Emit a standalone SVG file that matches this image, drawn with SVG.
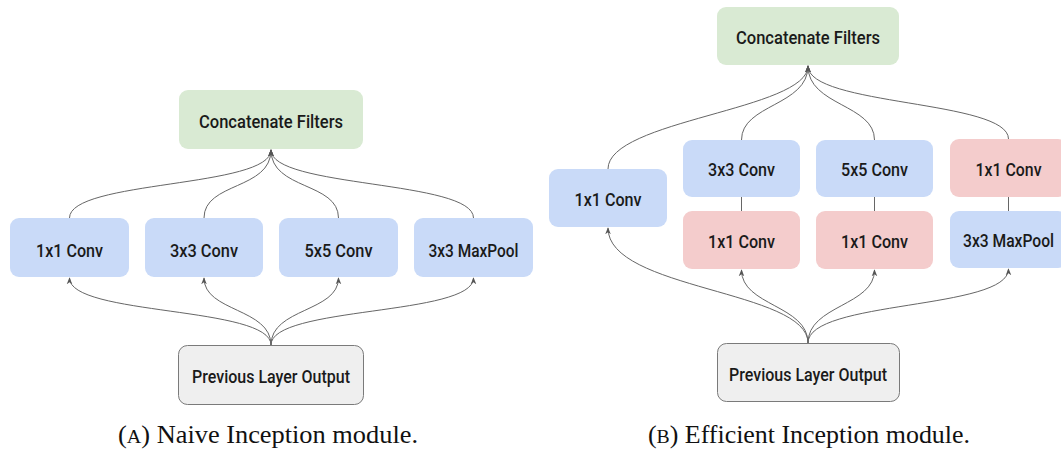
<svg xmlns="http://www.w3.org/2000/svg" width="1061" height="455" viewBox="0 0 1061 455">
  <defs>
    <marker id="arrow" viewBox="0 0 10 10" refX="9" refY="5" markerWidth="7" markerHeight="7" orient="auto" markerUnits="userSpaceOnUse">
      <path d="M0,1 L10,5 L0,9 L3,5 Z" fill="#555"/>
    </marker>
    <style>
      .box { rx: 9; ry: 9; }
      .blue { fill: #c9daf8; }
      .red { fill: #f4cccc; }
      .green { fill: #d9ead3; }
      .gray { fill: #efefef; stroke: #7a7a7a; stroke-width: 1; }
      .lbl { font-family: Roboto, "Liberation Sans", sans-serif; font-size: 18px; font-weight: 500; fill: #1a1a1a; text-anchor: middle; }
      .edge { fill: none; stroke: #666; stroke-width: 1; }
      .arr { marker-end: url(#arrow); }
      .cap { font-family: "Liberation Serif", serif; font-size: 25px; fill: #111; text-anchor: middle; }
    </style>
  </defs>

  <!-- Panel A: naive inception module -->
  <g id="connectors-a">
    <path class="edge arr" d="M69.5,218 C69.5,180 271,188 271,150"/>
    <path class="edge arr" d="M204,218 C204,182 271,190 271,150"/>
    <path class="edge arr" d="M338.5,218 C338.5,182 271,190 271,150"/>
    <path class="edge arr" d="M473.5,218 C473.5,180 271,188 271,150"/>
    <path class="edge arr" d="M271,345 C271,306 69.5,316 69.5,278"/>
    <path class="edge arr" d="M271,345 C271,308 204,312 204,278"/>
    <path class="edge arr" d="M271,345 C271,308 338.5,312 338.5,278"/>
    <path class="edge arr" d="M271,345 C271,306 473.5,316 473.5,278"/>
  </g>

  <g id="a-concat">
    <rect class="box green" x="179" y="90" width="184" height="59"/>
    <text class="lbl" x="271" y="128" textLength="144" lengthAdjust="spacingAndGlyphs">Concatenate Filters</text>
  </g>
  <g id="a-conv1">
    <rect class="box blue" x="10" y="218" width="119" height="59"/>
    <text class="lbl" x="69.5" y="257" textLength="67" lengthAdjust="spacingAndGlyphs">1x1 Conv</text>
  </g>
  <g id="a-conv3">
    <rect class="box blue" x="145" y="218" width="118" height="59"/>
    <text class="lbl" x="204" y="257" textLength="68" lengthAdjust="spacingAndGlyphs">3x3 Conv</text>
  </g>
  <g id="a-conv5">
    <rect class="box blue" x="279" y="218" width="119" height="59"/>
    <text class="lbl" x="338.5" y="257" textLength="68" lengthAdjust="spacingAndGlyphs">5x5 Conv</text>
  </g>
  <g id="a-pool">
    <rect class="box blue" x="414" y="218" width="119" height="59"/>
    <text class="lbl" x="473.5" y="257" textLength="90" lengthAdjust="spacingAndGlyphs">3x3 MaxPool</text>
  </g>
  <g id="a-input">
    <rect class="box gray" x="178.5" y="345.5" width="185" height="59"/>
    <text class="lbl" x="271" y="383" textLength="158" lengthAdjust="spacingAndGlyphs">Previous Layer Output</text>
  </g>
  <text class="cap" x="268" y="443" textLength="300" lengthAdjust="spacingAndGlyphs">(<tspan font-size="19">A</tspan>) Naive Inception module.</text>

  <!-- Panel B: efficient inception module -->
  <g id="connectors-b">
    <path class="edge arr" d="M608,169 C608,120 808,110 808,66"/>
    <path class="edge arr" d="M741.5,140 C741.5,104 808,106 808,66"/>
    <path class="edge arr" d="M874.5,140 C874.5,104 808,106 808,66"/>
    <path class="edge arr" d="M1008.5,139 C1008.5,100 808,106 808,66"/>
    <path class="edge" d="M741.5,197 V211"/>
    <path class="edge" d="M874.5,197 V211"/>
    <path class="edge" d="M1008.5,197 V211"/>
    <path class="edge arr" d="M808,343 C808,290 608,290 608,228"/>
    <path class="edge arr" d="M808,343 C808,305 741.5,306 741.5,270"/>
    <path class="edge arr" d="M808,343 C808,305 874.5,306 874.5,270"/>
    <path class="edge arr" d="M808,343 C808,300 1008.5,310 1008.5,269"/>
  </g>

  <g id="b-concat">
    <rect class="box green" x="717" y="7" width="182" height="58"/>
    <text class="lbl" x="808" y="44" textLength="144" lengthAdjust="spacingAndGlyphs">Concatenate Filters</text>
  </g>
  <g id="b-conv1">
    <rect class="box blue" x="549" y="169" width="118" height="58"/>
    <text class="lbl" x="608" y="206" textLength="67" lengthAdjust="spacingAndGlyphs">1x1 Conv</text>
  </g>
  <g id="b-conv3">
    <rect class="box blue" x="683" y="140" width="117" height="57"/>
    <text class="lbl" x="741.5" y="176" textLength="67" lengthAdjust="spacingAndGlyphs">3x3 Conv</text>
  </g>
  <g id="b-reduce3">
    <rect class="box red" x="683" y="211" width="117" height="58"/>
    <text class="lbl" x="741.5" y="248" textLength="67" lengthAdjust="spacingAndGlyphs">1x1 Conv</text>
  </g>
  <g id="b-conv5">
    <rect class="box blue" x="816" y="140" width="117" height="57"/>
    <text class="lbl" x="874.5" y="176" textLength="67" lengthAdjust="spacingAndGlyphs">5x5 Conv</text>
  </g>
  <g id="b-reduce5">
    <rect class="box red" x="816" y="211" width="117" height="58"/>
    <text class="lbl" x="874.5" y="248" textLength="67" lengthAdjust="spacingAndGlyphs">1x1 Conv</text>
  </g>
  <g id="b-proj">
    <rect class="box red" x="950" y="139" width="117" height="58"/>
    <text class="lbl" x="1008.5" y="176" textLength="66" lengthAdjust="spacingAndGlyphs">1x1 Conv</text>
  </g>
  <g id="b-pool">
    <rect class="box blue" x="950" y="211" width="117" height="57"/>
    <text class="lbl" x="1008.5" y="247" textLength="91" lengthAdjust="spacingAndGlyphs">3x3 MaxPool</text>
  </g>
  <g id="b-input">
    <rect class="box gray" x="717.5" y="343.5" width="182" height="58"/>
    <text class="lbl" x="808" y="381" textLength="158" lengthAdjust="spacingAndGlyphs">Previous Layer Output</text>
  </g>
  <text class="cap" x="809" y="443" textLength="322" lengthAdjust="spacingAndGlyphs">(<tspan font-size="19">B</tspan>) Efficient Inception module.</text>
</svg>
